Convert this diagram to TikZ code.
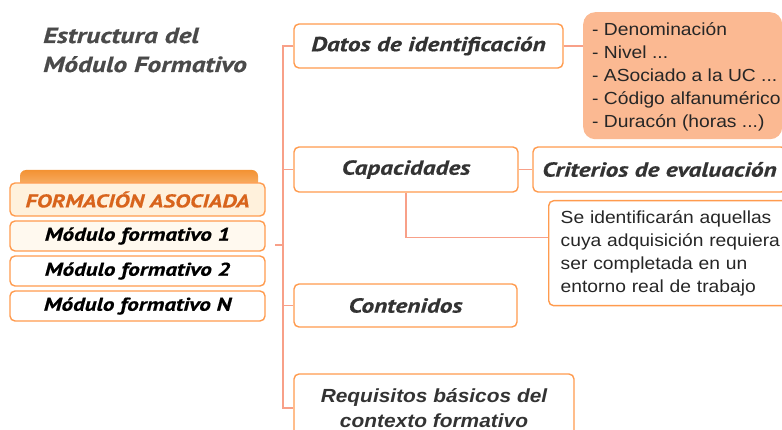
\documentclass[tikz,border=0pt]{standalone}
\usepackage{fontspec}
\setmainfont[FakeStretch=1.1]{Liberation Sans}
\newfontfamily\myriad[FakeStretch=1.25, FakeBold=0.5]{PT Sans}
\usetikzlibrary{positioning,calc}
\definecolor{borde}{HTML}{FF9B4E}
\definecolor{enlace}{HTML}{F8A088}
\definecolor{melocoton}{HTML}{FBB992}
\definecolor{pestana}{HTML}{F39233}
\definecolor{pestanaclara}{HTML}{F9BB7E}
\definecolor{titulo}{HTML}{4A4A4A}
\definecolor{naranjatexto}{HTML}{D8641C}
\definecolor{crema}{HTML}{FFF1DC}
\tikzset{
  caja/.style={draw=borde, line width=1.4pt, rounded corners=5pt, fill=white, inner sep=0pt},
  enlace/.style={draw=enlace, line width=1.4pt},
  encab/.style={font=\myriad\bfseries\itshape\fontsize{20.3}{22}\selectfont, text=black!80},
  modulo/.style={caja, minimum width=255, minimum height=30,
    font=\myriad\bfseries\itshape\fontsize{18.5}{20}\selectfont},
  plano/.style={font=\fontsize{17.5}{23}\selectfont, text=black!85},
  linea/.style={plano, anchor=base west, inner sep=0}
}
\begin{document}
\begin{tikzpicture}[x=1pt, y=-1pt]
        \useasboundingbox (0,0) rectangle (782,430);
        \clip (0,0) rectangle (782,430);

        % titulo
        \node[encab, text=titulo, font=\myriad\bfseries\itshape\fontsize{22}{29}\selectfont, anchor=base west, inner sep=0] (tit1) at (43,43) {Estructura del};
        \node[encab, text=titulo, font=\myriad\bfseries\itshape\fontsize{22}{29}\selectfont, anchor=base west, inner sep=0] (tit2) at (43,72) {Módulo Formativo};

        % formacion asociada
        \shade[top color=pestana, bottom color=pestanaclara, rounded corners=6pt] (20,170) rectangle (258,192);
        \node[modulo, fill=crema, text=naranjatexto, minimum height=33] (formacion) at (137.5,199.5) {FORMACIÓN ASOCIADA};
        \node[modulo, fill=crema!45] (mod1) at (137.5,236) {Módulo formativo 1};
        \node[modulo] (mod2) at (137.5,271) {Módulo formativo 2};
        \node[modulo] (modN) at (137.5,306) {Módulo formativo N};

        % ramas
        \node[caja, encab, minimum width=269, minimum height=44] (datos) at (428.5,46) {Datos de identificación};
        \node[fill=melocoton, rounded corners=12pt, minimum width=199, minimum height=127, anchor=north west, inner sep=0] (notas) at (583,12) {};
        \node[linea] (nota1) at (592,36) {- Denominación};
        \node[linea] (nota2) at (592,59) {- Nivel ...};
        \node[linea] (nota3) at (592,82) {- ASociado a la UC ...};
        \node[linea] (nota4) at (592,105) {- Código alfanumérico};
        \node[linea] (nota5) at (592,128) {- Duracón (horas ...)};

        \node[caja, encab, minimum width=224, minimum height=45] (capacidades) at (406,169.5) {Capacidades};
        \node[caja, encab, minimum width=253, minimum height=45] (criterios) at (659.5,169.5) {Criterios de evaluación};
        \node[caja, plano, anchor=north west, minimum width=252, minimum height=105, align=left, text width=228, inner xsep=12pt] (seident) at (548,200)
            {Se identificarán aquellas\\cuya adquisición requiera\\ser completada en un\\entorno real de trabajo};

        \node[caja, encab, minimum width=223, minimum height=43] (contenidos) at (405.5,305.5) {Contenidos};
        \node[caja, minimum width=280, minimum height=68, align=center, text=black!80,
            font=\bfseries\itshape\fontsize{19}{25}\selectfont] (requisitos) at (434,408) {Requisitos básicos del\\contexto formativo};

        % conectores
        \coordinate (tronco) at (283,245);
        \coordinate (stub) at (275,245);
        \draw[enlace] (stub) -- (tronco);
        \draw[enlace] (datos.west) -| (tronco) |- (requisitos.west);
        \draw[enlace] (capacidades.west) -- (capacidades.west -| tronco);
        \draw[enlace] (contenidos.west) -- (contenidos.west -| tronco);
        \draw[enlace] (datos.east) -- (datos.east -| notas.west);
        \draw[enlace] (capacidades.east) -- (criterios.west);
        \draw[enlace] (capacidades.south) |- ($(seident.north west)!0.35!(seident.south west)$);
    \end{tikzpicture}
\end{document}
